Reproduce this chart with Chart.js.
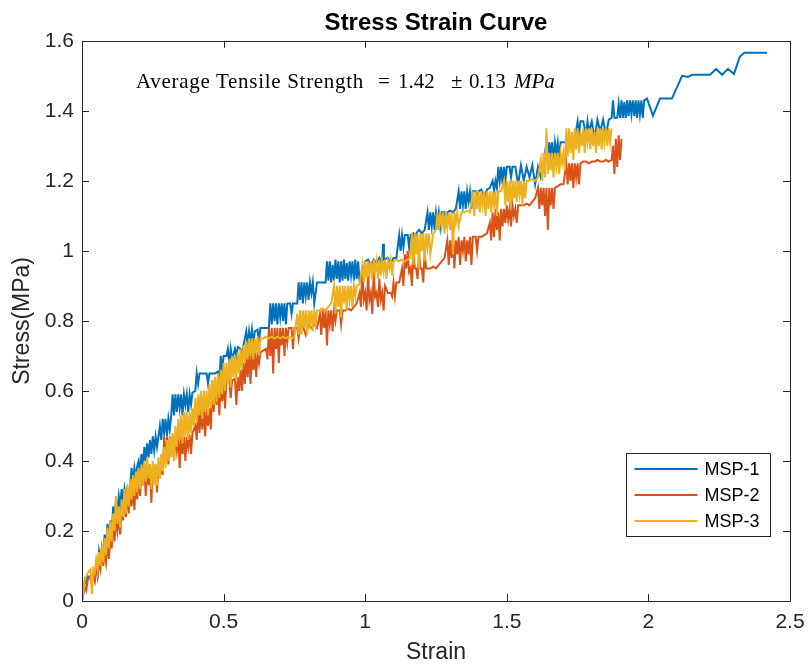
<!DOCTYPE html>
<html>
<head>
<meta charset="utf-8">
<script src="https://cdn.jsdelivr.net/npm/chart.js@4.4.1/dist/chart.umd.min.js"></script>
<style>
  html, body { margin: 0; padding: 0; background: #ffffff; }
  #wrap { position: relative; width: 809px; height: 666px; }
  #note { position: absolute; left: 0; top: 69px; width: 809px; height: 26px; font-family: "Liberation Serif", "DejaVu Serif", serif; font-size: 21px; color: #000; white-space: pre; line-height: 24px; }
  #note span { position: absolute; top: 0; }
  #note .it { font-style: italic; }
</style>
</head>
<body>
<div id="wrap">
  <canvas id="c" width="809" height="666"></canvas>
  <div id="note"><span style="left:136px;letter-spacing:0.7px">Average Tensile Strength</span> <span style="left:378px">=</span> <span style="left:398px">1.42</span> <span style="left:451px">±</span> <span style="left:469px">0.13</span> <span class="it" style="left:514px">MPa</span></div>
</div>
<script>
// ---------- data ----------
const seriesNames = ["MSP-1", "MSP-2", "MSP-3"];
const seriesColors = ["#0072BD", "#D95319", "#EDB120"];
const xTickValues = [0, 0.5, 1, 1.5, 2, 2.5];
const yTickValues = [0, 0.2, 0.4, 0.6, 0.8, 1, 1.2, 1.4, 1.6];

const msp1Strain = [0,0.005,0.01,0.015,0.02,0.03,0.04,0.045,0.05,0.055,0.06,0.065,0.07,0.075,0.08,0.085,0.09,0.095,0.1,0.105,0.11,0.115,0.12,0.125,0.13,0.135,0.14,0.145,0.15,0.155,0.16,0.165,0.17,0.175,0.18,0.185,0.19,0.195,0.2,0.205,0.21,0.215,0.22,0.225,0.23,0.235,0.24,0.245,0.25,0.255,0.26,0.265,0.27,0.275,0.28,0.285,0.29,0.295,0.3,0.305,0.31,0.315,0.32,0.325,0.33,0.335,0.34,0.345,0.35,0.355,0.36,0.365,0.37,0.375,0.38,0.385,0.39,0.4,0.405,0.41,0.415,0.43,0.44,0.445,0.45,0.47,0.48,0.485,0.49,0.495,0.5,0.51,0.515,0.52,0.525,0.53,0.54,0.545,0.55,0.56,0.565,0.57,0.58,0.585,0.59,0.595,0.6,0.605,0.61,0.62,0.625,0.63,0.64,0.65,0.66,0.665,0.67,0.675,0.68,0.685,0.69,0.695,0.7,0.705,0.71,0.715,0.72,0.725,0.735,0.74,0.745,0.76,0.765,0.77,0.775,0.78,0.785,0.79,0.795,0.8,0.805,0.81,0.815,0.82,0.83,0.845,0.86,0.865,0.87,0.875,0.88,0.885,0.89,0.895,0.9,0.905,0.91,0.915,0.92,0.925,0.93,0.935,0.94,0.945,0.95,0.955,0.96,0.965,0.97,0.975,0.98,0.99,1,1.01,1.02,1.03,1.04,1.05,1.06,1.063,1.066,1.08,1.09,1.1,1.11,1.12,1.125,1.13,1.135,1.14,1.15,1.155,1.16,1.17,1.175,1.18,1.19,1.2,1.21,1.22,1.225,1.23,1.235,1.24,1.245,1.25,1.255,1.26,1.265,1.27,1.28,1.285,1.29,1.3,1.31,1.32,1.33,1.335,1.34,1.345,1.35,1.355,1.36,1.365,1.37,1.375,1.38,1.39,1.395,1.4,1.41,1.42,1.43,1.44,1.45,1.455,1.46,1.465,1.47,1.475,1.48,1.485,1.49,1.495,1.5,1.51,1.515,1.52,1.53,1.54,1.55,1.56,1.57,1.58,1.59,1.6,1.61,1.62,1.63,1.64,1.645,1.65,1.655,1.66,1.665,1.67,1.675,1.68,1.685,1.69,1.7,1.71,1.72,1.73,1.74,1.75,1.755,1.76,1.77,1.78,1.785,1.79,1.8,1.81,1.82,1.83,1.84,1.85,1.86,1.87,1.875,1.88,1.89,1.895,1.9,1.905,1.91,1.915,1.92,1.925,1.93,1.935,1.94,1.945,1.95,1.955,1.96,1.965,1.97,1.975,1.98,1.985,1.995,2.016,2.041,2.083,2.119,2.14,2.154,2.218,2.239,2.26,2.281,2.302,2.323,2.339,2.419];
const msp1Stress = [0,0.03,0.06,0.05,0.07,0.07,0.075,0.06,0.1,0.08,0.14,0.11,0.15,0.12,0.19,0.15,0.22,0.18,0.23,0.19,0.27,0.23,0.29,0.25,0.3,0.27,0.32,0.28,0.32,0.29,0.32,0.3,0.33,0.38,0.34,0.38,0.35,0.385,0.4,0.36,0.42,0.38,0.44,0.4,0.45,0.41,0.46,0.42,0.47,0.43,0.47,0.44,0.47,0.5,0.46,0.52,0.48,0.52,0.47,0.52,0.49,0.53,0.59,0.53,0.59,0.54,0.59,0.55,0.59,0.53,0.59,0.56,0.59,0.54,0.59,0.56,0.595,0.6,0.65,0.62,0.65,0.65,0.65,0.62,0.65,0.65,0.655,0.63,0.7,0.66,0.7,0.7,0.72,0.68,0.72,0.69,0.72,0.7,0.725,0.72,0.7,0.73,0.77,0.73,0.77,0.74,0.775,0.73,0.77,0.775,0.74,0.78,0.78,0.78,0.78,0.85,0.79,0.85,0.8,0.85,0.79,0.85,0.81,0.85,0.8,0.85,0.79,0.85,0.85,0.82,0.85,0.85,0.91,0.86,0.91,0.85,0.91,0.87,0.91,0.86,0.91,0.88,0.91,0.85,0.91,0.91,0.91,0.97,0.915,0.97,0.91,0.96,0.915,0.975,0.92,0.97,0.91,0.97,0.915,0.975,0.92,0.965,0.915,0.97,0.93,0.97,0.915,0.975,0.92,0.97,0.915,0.915,0.97,0.975,0.955,0.975,0.965,0.98,0.96,1.02,0.975,0.98,0.965,0.98,0.98,1.045,1.0,1.045,1.01,1.045,1.045,1.01,1.045,1.05,1.03,1.05,1.06,1.05,1.06,1.11,1.06,1.11,1.07,1.11,1.06,1.11,1.08,1.11,1.07,1.11,1.11,1.08,1.11,1.115,1.11,1.12,1.17,1.12,1.17,1.13,1.17,1.12,1.17,1.14,1.17,1.12,1.17,1.17,1.14,1.17,1.175,1.15,1.175,1.18,1.2,1.17,1.2,1.18,1.24,1.2,1.24,1.19,1.24,1.2,1.24,1.24,1.21,1.24,1.24,1.19,1.245,1.2,1.24,1.21,1.245,1.19,1.24,1.21,1.25,1.31,1.26,1.31,1.27,1.31,1.25,1.31,1.28,1.31,1.26,1.31,1.31,1.31,1.315,1.31,1.32,1.37,1.33,1.37,1.37,1.33,1.37,1.34,1.37,1.32,1.375,1.34,1.375,1.33,1.375,1.38,1.43,1.38,1.38,1.42,1.38,1.43,1.38,1.425,1.38,1.43,1.385,1.43,1.39,1.43,1.385,1.43,1.38,1.43,1.39,1.43,1.38,1.43,1.435,1.386,1.435,1.435,1.5,1.497,1.503,1.503,1.52,1.503,1.52,1.505,1.555,1.566,1.566];

const msp2Strain = [0,0.005,0.01,0.015,0.02,0.03,0.035,0.04,0.045,0.05,0.055,0.06,0.065,0.07,0.075,0.08,0.085,0.09,0.095,0.1,0.105,0.11,0.115,0.12,0.125,0.13,0.135,0.14,0.145,0.15,0.155,0.16,0.165,0.17,0.175,0.18,0.185,0.19,0.195,0.2,0.205,0.21,0.215,0.22,0.225,0.23,0.235,0.24,0.245,0.25,0.255,0.26,0.265,0.27,0.275,0.28,0.285,0.29,0.295,0.3,0.305,0.31,0.315,0.32,0.325,0.33,0.335,0.34,0.345,0.35,0.355,0.36,0.365,0.37,0.375,0.38,0.385,0.39,0.4,0.405,0.41,0.415,0.42,0.425,0.43,0.435,0.44,0.445,0.45,0.455,0.46,0.465,0.47,0.475,0.48,0.485,0.49,0.495,0.5,0.505,0.51,0.52,0.525,0.53,0.54,0.545,0.55,0.555,0.56,0.565,0.57,0.575,0.58,0.585,0.59,0.595,0.6,0.605,0.61,0.615,0.62,0.625,0.63,0.64,0.65,0.655,0.66,0.665,0.67,0.675,0.68,0.685,0.69,0.695,0.7,0.705,0.71,0.715,0.72,0.725,0.73,0.74,0.745,0.75,0.76,0.765,0.77,0.78,0.79,0.8,0.81,0.82,0.83,0.84,0.845,0.85,0.855,0.86,0.865,0.87,0.875,0.88,0.885,0.89,0.895,0.9,0.91,0.915,0.92,0.93,0.94,0.95,0.96,0.97,0.98,0.985,0.99,0.995,1,1.005,1.01,1.015,1.02,1.025,1.03,1.035,1.04,1.045,1.05,1.055,1.06,1.065,1.07,1.08,1.09,1.095,1.1,1.105,1.11,1.12,1.13,1.135,1.14,1.145,1.15,1.155,1.16,1.165,1.17,1.175,1.18,1.185,1.19,1.195,1.2,1.205,1.21,1.215,1.22,1.23,1.24,1.25,1.26,1.27,1.28,1.29,1.295,1.3,1.305,1.31,1.315,1.32,1.325,1.33,1.335,1.34,1.345,1.35,1.355,1.36,1.365,1.37,1.375,1.38,1.39,1.395,1.4,1.41,1.42,1.43,1.44,1.445,1.45,1.455,1.46,1.465,1.47,1.475,1.48,1.485,1.49,1.495,1.5,1.505,1.51,1.515,1.52,1.525,1.53,1.535,1.54,1.55,1.56,1.57,1.58,1.59,1.6,1.61,1.615,1.62,1.625,1.63,1.635,1.64,1.645,1.65,1.655,1.66,1.665,1.67,1.68,1.69,1.7,1.71,1.715,1.72,1.725,1.73,1.735,1.74,1.745,1.75,1.755,1.76,1.77,1.78,1.79,1.8,1.81,1.82,1.83,1.84,1.85,1.86,1.87,1.875,1.88,1.885,1.89,1.895,1.9,1.905];
const msp2Stress = [0,0.02,0.04,0.03,0.06,0.07,0.05,0.08,0.06,0.1,0.07,0.11,0.09,0.15,0.1,0.14,0.11,0.17,0.12,0.18,0.15,0.23,0.17,0.24,0.2,0.24,0.19,0.26,0.23,0.3,0.24,0.32,0.25,0.31,0.27,0.32,0.26,0.34,0.29,0.36,0.3,0.37,0.33,0.39,0.3,0.39,0.33,0.39,0.28,0.39,0.34,0.39,0.31,0.39,0.35,0.395,0.36,0.47,0.4,0.47,0.39,0.47,0.42,0.47,0.4,0.47,0.43,0.47,0.38,0.47,0.42,0.47,0.4,0.47,0.44,0.475,0.42,0.48,0.5,0.46,0.55,0.48,0.55,0.49,0.55,0.47,0.55,0.5,0.55,0.49,0.63,0.54,0.63,0.56,0.63,0.53,0.63,0.57,0.63,0.55,0.63,0.63,0.58,0.63,0.635,0.56,0.64,0.6,0.66,0.6,0.68,0.62,0.7,0.64,0.71,0.62,0.71,0.66,0.71,0.64,0.71,0.68,0.71,0.715,0.72,0.69,0.78,0.7,0.78,0.65,0.78,0.72,0.78,0.68,0.78,0.73,0.78,0.7,0.78,0.74,0.78,0.78,0.72,0.78,0.78,0.75,0.78,0.785,0.76,0.79,0.78,0.79,0.78,0.82,0.76,0.83,0.78,0.83,0.73,0.83,0.79,0.83,0.77,0.83,0.8,0.83,0.83,0.79,0.83,0.83,0.835,0.83,0.84,0.85,0.88,0.84,0.95,0.86,0.88,0.83,0.93,0.86,0.88,0.82,0.94,0.87,0.88,0.84,0.92,0.86,0.88,0.83,0.9,0.88,0.88,0.87,0.91,0.87,0.91,0.91,0.95,0.9,0.99,0.95,1.0,0.94,0.95,0.9,1.01,0.95,0.95,0.92,0.99,0.95,0.95,0.91,1.0,0.95,0.95,0.95,0.955,0.95,0.96,0.97,0.98,1.03,0.96,1.03,0.98,1.04,0.95,1.03,0.99,1.04,0.96,1.03,1.0,1.04,0.97,1.03,0.99,1.04,0.96,1.04,1.04,1.0,1.04,1.04,1.045,1.05,1.08,1.03,1.11,1.04,1.12,1.06,1.11,1.03,1.12,1.07,1.12,1.08,1.13,1.09,1.12,1.07,1.13,1.1,1.12,1.08,1.13,1.13,1.13,1.135,1.13,1.14,1.15,1.18,1.12,1.18,1.13,1.18,1.1,1.18,1.06,1.18,1.13,1.18,1.12,1.18,1.185,1.19,1.19,1.25,1.19,1.25,1.2,1.25,1.18,1.25,1.21,1.25,1.19,1.25,1.255,1.255,1.25,1.255,1.255,1.26,1.255,1.255,1.26,1.255,1.26,1.3,1.22,1.32,1.24,1.33,1.26,1.32];

const msp3Strain = [0,0.005,0.01,0.015,0.02,0.025,0.03,0.035,0.04,0.045,0.05,0.055,0.06,0.065,0.07,0.075,0.08,0.085,0.09,0.095,0.1,0.105,0.11,0.115,0.12,0.125,0.13,0.135,0.14,0.145,0.15,0.155,0.16,0.165,0.17,0.175,0.18,0.185,0.19,0.195,0.2,0.205,0.21,0.215,0.22,0.225,0.23,0.235,0.24,0.245,0.25,0.255,0.26,0.265,0.27,0.275,0.28,0.285,0.29,0.295,0.3,0.305,0.31,0.315,0.32,0.325,0.33,0.335,0.34,0.345,0.35,0.355,0.36,0.365,0.37,0.375,0.38,0.385,0.39,0.395,0.4,0.405,0.41,0.415,0.42,0.425,0.43,0.435,0.44,0.445,0.45,0.455,0.46,0.465,0.47,0.475,0.48,0.485,0.49,0.495,0.5,0.505,0.51,0.515,0.52,0.525,0.53,0.535,0.54,0.545,0.55,0.555,0.56,0.565,0.57,0.575,0.58,0.585,0.59,0.595,0.6,0.605,0.61,0.615,0.62,0.625,0.63,0.64,0.65,0.66,0.67,0.68,0.69,0.7,0.71,0.72,0.73,0.74,0.75,0.76,0.765,0.77,0.775,0.78,0.785,0.79,0.795,0.8,0.805,0.81,0.815,0.82,0.825,0.83,0.84,0.85,0.86,0.87,0.88,0.89,0.895,0.9,0.905,0.91,0.915,0.92,0.925,0.93,0.935,0.94,0.945,0.95,0.955,0.96,0.965,0.97,0.98,0.99,0.995,1,1.005,1.01,1.015,1.02,1.025,1.03,1.035,1.04,1.045,1.05,1.055,1.06,1.065,1.07,1.075,1.08,1.085,1.09,1.095,1.1,1.11,1.12,1.13,1.14,1.15,1.16,1.165,1.17,1.175,1.18,1.185,1.19,1.195,1.2,1.205,1.21,1.215,1.22,1.225,1.23,1.24,1.25,1.255,1.26,1.265,1.27,1.275,1.28,1.285,1.29,1.295,1.3,1.305,1.31,1.315,1.32,1.325,1.33,1.34,1.35,1.36,1.37,1.38,1.385,1.39,1.395,1.4,1.405,1.41,1.415,1.42,1.425,1.43,1.435,1.44,1.445,1.45,1.455,1.46,1.465,1.47,1.48,1.49,1.495,1.5,1.505,1.51,1.515,1.52,1.525,1.53,1.535,1.54,1.545,1.55,1.555,1.56,1.565,1.57,1.58,1.59,1.6,1.61,1.62,1.625,1.63,1.635,1.64,1.645,1.65,1.655,1.66,1.665,1.67,1.675,1.68,1.685,1.69,1.695,1.7,1.705,1.71,1.715,1.72,1.725,1.73,1.735,1.74,1.745,1.75,1.755,1.76,1.765,1.77,1.775,1.78,1.785,1.79,1.795,1.8,1.805,1.81,1.815,1.82,1.825,1.83,1.835,1.84,1.845,1.85,1.855,1.86,1.865,1.87];
const msp3Stress = [0,0.03,0.06,0.07,0.08,0.085,0.09,0.02,0.09,0.08,0.12,0.09,0.14,0.1,0.16,0.11,0.18,0.13,0.21,0.15,0.23,0.17,0.25,0.2,0.3,0.22,0.27,0.21,0.29,0.24,0.32,0.25,0.33,0.27,0.35,0.29,0.36,0.3,0.37,0.31,0.38,0.32,0.39,0.33,0.4,0.34,0.41,0.35,0.39,0.32,0.4,0.33,0.39,0.33,0.41,0.35,0.42,0.37,0.44,0.38,0.46,0.4,0.47,0.41,0.48,0.4,0.5,0.44,0.52,0.46,0.53,0.45,0.54,0.47,0.54,0.46,0.54,0.48,0.55,0.5,0.58,0.51,0.59,0.53,0.6,0.52,0.6,0.54,0.6,0.53,0.62,0.55,0.63,0.56,0.64,0.57,0.65,0.58,0.66,0.59,0.68,0.6,0.68,0.62,0.69,0.61,0.7,0.64,0.7,0.63,0.71,0.65,0.72,0.66,0.73,0.68,0.74,0.69,0.75,0.7,0.75,0.69,0.75,0.71,0.755,0.7,0.75,0.75,0.755,0.75,0.755,0.75,0.755,0.75,0.755,0.75,0.755,0.75,0.755,0.82,0.76,0.83,0.76,0.83,0.78,0.83,0.76,0.83,0.79,0.83,0.77,0.83,0.79,0.83,0.83,0.835,0.83,0.84,0.85,0.9,0.82,0.9,0.84,0.9,0.81,0.9,0.85,0.9,0.83,0.9,0.86,0.9,0.84,0.9,0.87,0.9,0.905,0.96,0.91,0.97,0.92,0.97,0.93,0.97,0.92,0.975,0.94,0.97,0.92,0.975,0.93,0.97,0.94,0.975,0.92,0.97,0.95,0.975,0.93,0.97,0.975,0.97,0.975,0.97,0.975,0.98,1.05,0.96,1.05,0.99,1.05,0.95,1.05,1.0,1.05,0.97,1.05,1.01,1.05,0.99,1.05,1.06,1.11,1.06,1.11,1.07,1.11,1.05,1.11,1.07,1.11,1.06,1.11,0.99,1.11,1.08,1.11,1.07,1.11,1.11,1.115,1.11,1.17,1.1,1.17,1.12,1.17,1.11,1.17,1.13,1.17,1.1,1.17,1.12,1.17,1.11,1.17,1.13,1.17,1.1,1.17,1.17,1.2,1.13,1.2,1.14,1.2,1.13,1.2,1.15,1.2,1.14,1.2,1.16,1.2,1.13,1.2,1.15,1.2,1.2,1.205,1.2,1.21,1.26,1.2,1.28,1.21,1.35,1.22,1.28,1.23,1.28,1.21,1.28,1.24,1.28,1.22,1.28,1.25,1.28,1.23,1.35,1.27,1.35,1.28,1.34,1.26,1.35,1.29,1.35,1.28,1.34,1.3,1.35,1.28,1.35,1.31,1.35,1.29,1.35,1.3,1.34,1.28,1.35,1.3,1.35,1.29,1.35,1.31,1.35,1.3,1.35,1.31,1.35];

// ---------- chart ----------
const strainSets = [msp1Strain, msp2Strain, msp3Strain];
const stressSets = [msp1Stress, msp2Stress, msp3Stress];
const axisColor = "#262626";
const sansFont = "'Liberation Sans', Arial, sans-serif";

const datasets = seriesNames.map((name, i) => ({
  label: name,
  data: strainSets[i].map((x, k) => ({ x: x, y: stressSets[i][k] })),
  borderColor: seriesColors[i],
  backgroundColor: seriesColors[i],
  borderWidth: 2,
  pointRadius: 0,
  tension: 0,
  fill: false,
  order: 3 - i
}));

const fmtTick = v => String(Math.round(v * 10) / 10);

const boxAndTicks = {
  id: "boxAndTicks",
  afterDatasetsDraw(chart) {
    const ctx = chart.ctx;
    const a = chart.chartArea;
    const xs = chart.scales.x, ys = chart.scales.y;
    ctx.save();
    ctx.strokeStyle = axisColor;
    ctx.lineWidth = 1;
    ctx.strokeRect(Math.round(a.left) + 0.5, Math.round(a.top) + 0.5, Math.round(a.right - a.left), Math.round(a.bottom - a.top));
    const len = 7;
    ctx.beginPath();
    xTickValues.forEach(v => {
      const px = Math.round(xs.getPixelForValue(v)) + 0.5;
      ctx.moveTo(px, a.bottom); ctx.lineTo(px, a.bottom - len);
      ctx.moveTo(px, a.top); ctx.lineTo(px, a.top + len);
    });
    yTickValues.forEach(v => {
      const py = Math.round(ys.getPixelForValue(v)) + 0.5;
      ctx.moveTo(a.left, py); ctx.lineTo(a.left + len, py);
      ctx.moveTo(a.right, py); ctx.lineTo(a.right - len, py);
    });
    ctx.stroke();
    ctx.restore();
  },
  afterDraw(chart) {
    // legend box inside the plot (lower right)
    const ctx = chart.ctx;
    const xs = chart.scales.x;
    const bx = Math.round(xs.getPixelForValue(1.92)) + 0.5;
    const bw = 144;
    const by = 453.5, bh = 83;
    ctx.save();
    ctx.fillStyle = "#ffffff";
    ctx.fillRect(bx, by, bw, bh);
    ctx.strokeStyle = axisColor;
    ctx.lineWidth = 1;
    ctx.strokeRect(bx, by, bw, bh);
    ctx.font = "18px " + sansFont;
    ctx.textBaseline = "middle";
    ctx.fillStyle = "#000000";
    seriesNames.forEach((name, i) => {
      const y = by + 15.5 + i * 26;
      ctx.strokeStyle = seriesColors[i];
      ctx.lineWidth = 2;
      ctx.beginPath();
      ctx.moveTo(bx + 8, y); ctx.lineTo(bx + 71, y);
      ctx.stroke();
      ctx.fillText(name, bx + 78, y + 1);
    });
    ctx.restore();
  }
};

new Chart(document.getElementById("c"), {
  type: "line",
  data: { datasets: datasets },
  options: {
    responsive: false,
    animation: false,
    layout: { padding: { left: 9, right: 19, top: 0, bottom: 0 } },
    plugins: {
      legend: { display: false },
      tooltip: { enabled: false },
      title: {
        display: true,
        fullSize: false,
        text: "Stress Strain Curve",
        color: "#000000",
        font: { family: sansFont, size: 24, weight: "bold" },
        padding: { top: 9, bottom: 3 }
      }
    },
    scales: {
      x: {
        type: "linear",
        min: 0, max: 2.5,
        afterBuildTicks(scale) { scale.ticks = xTickValues.map(v => ({ value: v })); },
        afterFit(scale) { scale.height = 65; scale.paddingLeft = 0; scale.paddingRight = 0; },
        grid: { display: false, drawTicks: false },
        border: { display: false },
        ticks: { color: axisColor, padding: 9, font: { family: sansFont, size: 21 }, maxRotation: 0, callback: fmtTick },
        title: { display: true, text: "Strain", color: axisColor, font: { family: sansFont, size: 23 }, padding: { top: 0, bottom: 0 } }
      },
      y: {
        type: "linear",
        min: 0, max: 1.6,
        afterBuildTicks(scale) { scale.ticks = yTickValues.map(v => ({ value: v })); },
        afterFit(scale) { scale.width = 73; scale.paddingTop = 0; scale.paddingBottom = 0; },
        grid: { display: false, drawTicks: false },
        border: { display: false },
        ticks: { color: axisColor, padding: 8, font: { family: sansFont, size: 21 }, callback: fmtTick },
        title: { display: true, text: "Stress(MPa)", color: axisColor, font: { family: sansFont, size: 23 }, padding: { top: 0, bottom: 0 } }
      }
    }
  },
  plugins: [boxAndTicks]
});
</script>
</body>
</html>
